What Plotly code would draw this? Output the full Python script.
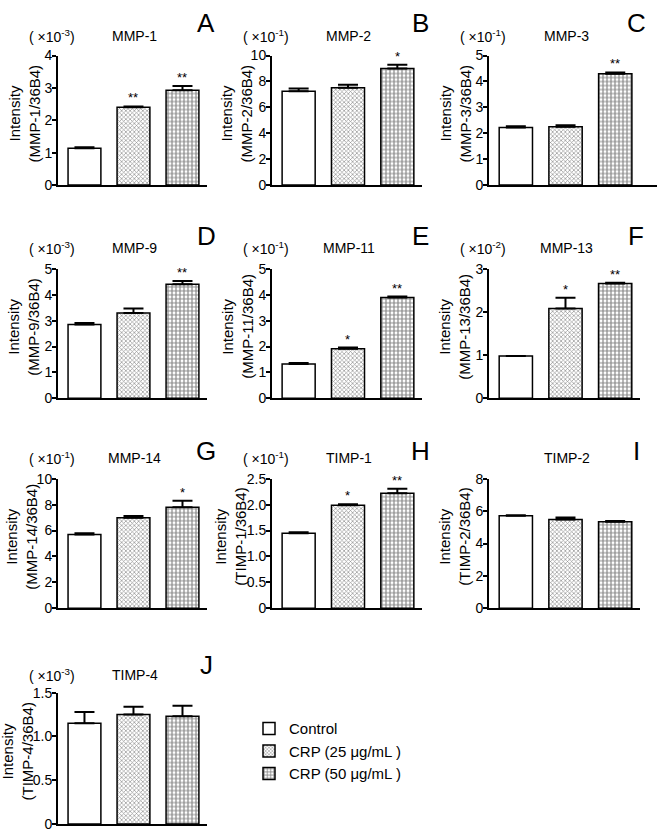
import plotly.graph_objects as go

FONT = "Liberation Sans, Arial, sans-serif"
W, H = 658, 834

#### data ####
letters = ["A", "B", "C", "D", "E", "F", "G", "H", "I", "J"]
titles = ["MMP-1", "MMP-2", "MMP-3", "MMP-9", "MMP-11", "MMP-13",
          "MMP-14", "TIMP-1", "TIMP-2", "TIMP-4"]
exponents = ["-3", "-1", "-1", "-3", "-1", "-2", "-1", "-1", None, "-3"]
groups = ["Control", "CRP (25 μg/mL )", "CRP (50 μg/mL )"]

control = [1.14, 7.25, 2.22, 2.85, 1.33, 0.98, 5.69, 1.45, 5.71, 1.15]
control_err = [0.03, 0.20, 0.05, 0.06, 0.04, 0.0, 0.10, 0.02, 0.04, 0.13]
crp25 = [2.40, 7.52, 2.25, 3.30, 1.92, 2.08, 7.00, 1.99, 5.49, 1.25]
crp25_err = [0.03, 0.23, 0.06, 0.17, 0.04, 0.25, 0.13, 0.02, 0.12, 0.09]
crp50 = [2.93, 9.00, 4.30, 4.41, 3.90, 2.66, 7.81, 2.22, 5.35, 1.23]
crp50_err = [0.13, 0.30, 0.05, 0.12, 0.03, 0.02, 0.50, 0.09, 0.04, 0.12]
sig25 = ["**", "", "", "", "*", "*", "", "*", "", ""]
sig50 = ["**", "*", "**", "**", "**", "**", "*", "**", "", ""]

ymax = [4, 10, 5, 5, 5, 3, 10, 2.5, 8, 1.5]
tick_vals = [
    [0, 1, 2, 3, 4],
    [0, 2, 4, 6, 8, 10],
    [0, 1, 2, 3, 4, 5],
    [0, 1, 2, 3, 4, 5],
    [0, 1, 2, 3, 4, 5],
    [0, 1, 2, 3],
    [0, 2, 4, 6, 8, 10],
    [0, 0.5, 1.0, 1.5, 2.0, 2.5],
    [0, 2, 4, 6, 8],
    [0, 0.5, 1.0, 1.5],
]
tick_text = [
    ["0", "1", "2", "3", "4"],
    ["0", "2", "4", "6", "8", "10"],
    ["0", "1", "2", "3", "4", "5"],
    ["0", "1", "2", "3", "4", "5"],
    ["0", "1", "2", "3", "4", "5"],
    ["0", "1", "2", "3"],
    ["0", "2", "4", "6", "8", "10"],
    ["0", "0.5", "1.0", "1.5", "2.0", "2.5"],
    ["0", "2", "4", "6", "8"],
    ["0", "0.5", "1.0", "1.5"],
]

#### layout in pixels ####
col_px = [(58, 207), (272, 422), (489, 640)]
row_px = [(48.5, 180.5), (266, 398), (480, 612), (698, 832)]
letter_x = [206, 420, 636]
letter_dy = [33, 34, 28, 28]
expo_dy = [20, 21, 21, 18]

patterns = [
    dict(shape=""),
    dict(shape="x", size=3, solidity=0.4, fgcolor="#222", bgcolor="white"),
    dict(shape="+", size=4, solidity=0.5, fgcolor="#111", bgcolor="white"),
]
series = [control, crp25, crp50]
errors = [control_err, crp25_err, crp50_err]


def px(x):
    return x / W


def py(y):
    return 1 - y / H


fig = go.Figure()
annotations = []

for i in range(10):
    r, c = divmod(i, 3)
    ax = "" if i == 0 else str(i + 1)
    left, right = col_px[c]
    top, bottom = row_px[r]
    x_end = 2.5
    if i == 2:
        right = 657
        x_end = 2.84

    for g in range(3):
        fig.add_trace(go.Bar(
            x=[g], y=[series[g][i]], width=0.67,
            name=groups[g], legendgroup=groups[g], showlegend=(i == 0),
            marker=dict(color="white", line=dict(color="black", width=1.5),
                        pattern=patterns[g]),
            error_y=dict(type="data", symmetric=False, array=[errors[g][i]],
                         arrayminus=[0], color="black", thickness=2, width=10),
            xaxis="x" + ax, yaxis="y" + ax,
        ))

    fig.update_layout({
        "xaxis" + ax: dict(domain=[px(left), px(right)], range=[-0.54, x_end],
                           anchor="y" + ax, showline=True, linecolor="black",
                           linewidth=2, showticklabels=False, ticks="",
                           showgrid=False, zeroline=False, fixedrange=True),
        "yaxis" + ax: dict(domain=[py(bottom), py(top)], range=[0, ymax[i]],
                           anchor="x" + ax, showline=True, linecolor="black",
                           linewidth=2, ticks="outside", ticklen=4, tickwidth=1.5,
                           tickcolor="black", tickvals=tick_vals[i],
                           ticktext=tick_text[i], ticklabelstandoff=-3,
                           tickfont=dict(family=FONT, size=14, color="black"),
                           showgrid=False, zeroline=False, fixedrange=True),
    })

    # significance stars
    for g, sig in ((1, sig25[i]), (2, sig50[i])):
        if sig:
            annotations.append(dict(
                x=g, y=series[g][i] + errors[g][i], xref="x" + ax, yref="y" + ax,
                text=sig, showarrow=False, yanchor="bottom", yshift=-1,
                font=dict(family=FONT, size=13, color="black")))

    # y-axis title, two rotated lines
    lab_w = max(len(t) for t in tick_text[i])
    off2 = {1: 24, 2: 26, 3: 31}[lab_w]
    ymid = (top + bottom) / 2 - 7
    for txt, off in (("Intensity", off2 + 20),
                     ("(" + titles[i] + "/36B4)", off2)):
        annotations.append(dict(
            x=px(left - off), y=py(ymid), xref="paper", yref="paper",
            text=txt, textangle=-90, showarrow=False,
            xanchor="center", yanchor="middle",
            font=dict(family=FONT, size=15, color="black")))

    # panel title, exponent and letter
    mid = (left + col_px[c][1]) / 2 if i != 2 else 564.5
    annotations.append(dict(
        x=px(mid + 2), y=py(top - expo_dy[r]), xref="paper", yref="paper",
        text=titles[i], showarrow=False, xanchor="center", yanchor="middle",
        font=dict(family=FONT, size=14, color="black")))
    if exponents[i]:
        annotations.append(dict(
            x=px(left - 31), y=py(top - expo_dy[r]), xref="paper", yref="paper",
            text="( ×10<sup>" + exponents[i] + "</sup>)", showarrow=False,
            xanchor="left", yanchor="middle",
            font=dict(family=FONT, size=14, color="black")))
    annotations.append(dict(
        x=px(letter_x[c]), y=py(top - letter_dy[r]), xref="paper", yref="paper",
        text=letters[i], showarrow=False, xanchor="center", yanchor="middle",
        font=dict(family=FONT, size=26, color="black")))

fig.update_layout(
    width=W, height=H, margin=dict(l=0, r=0, t=0, b=0),
    paper_bgcolor="white", plot_bgcolor="white",
    barmode="overlay", annotations=annotations,
    legend=dict(x=px(249), y=py(718), xanchor="left", yanchor="top",
                font=dict(family=FONT, size=15, color="black"),
                tracegroupgap=0, bgcolor="rgba(0,0,0,0)"),
    font=dict(family=FONT, color="black"),
)

# the page body has a default 8px margin; drop it so the figure sits at 0,0
fig.write_html("out.html", config={"displayModeBar": False},
               post_script="document.body.style.margin='0';"
                           "document.body.style.overflow='hidden';")
